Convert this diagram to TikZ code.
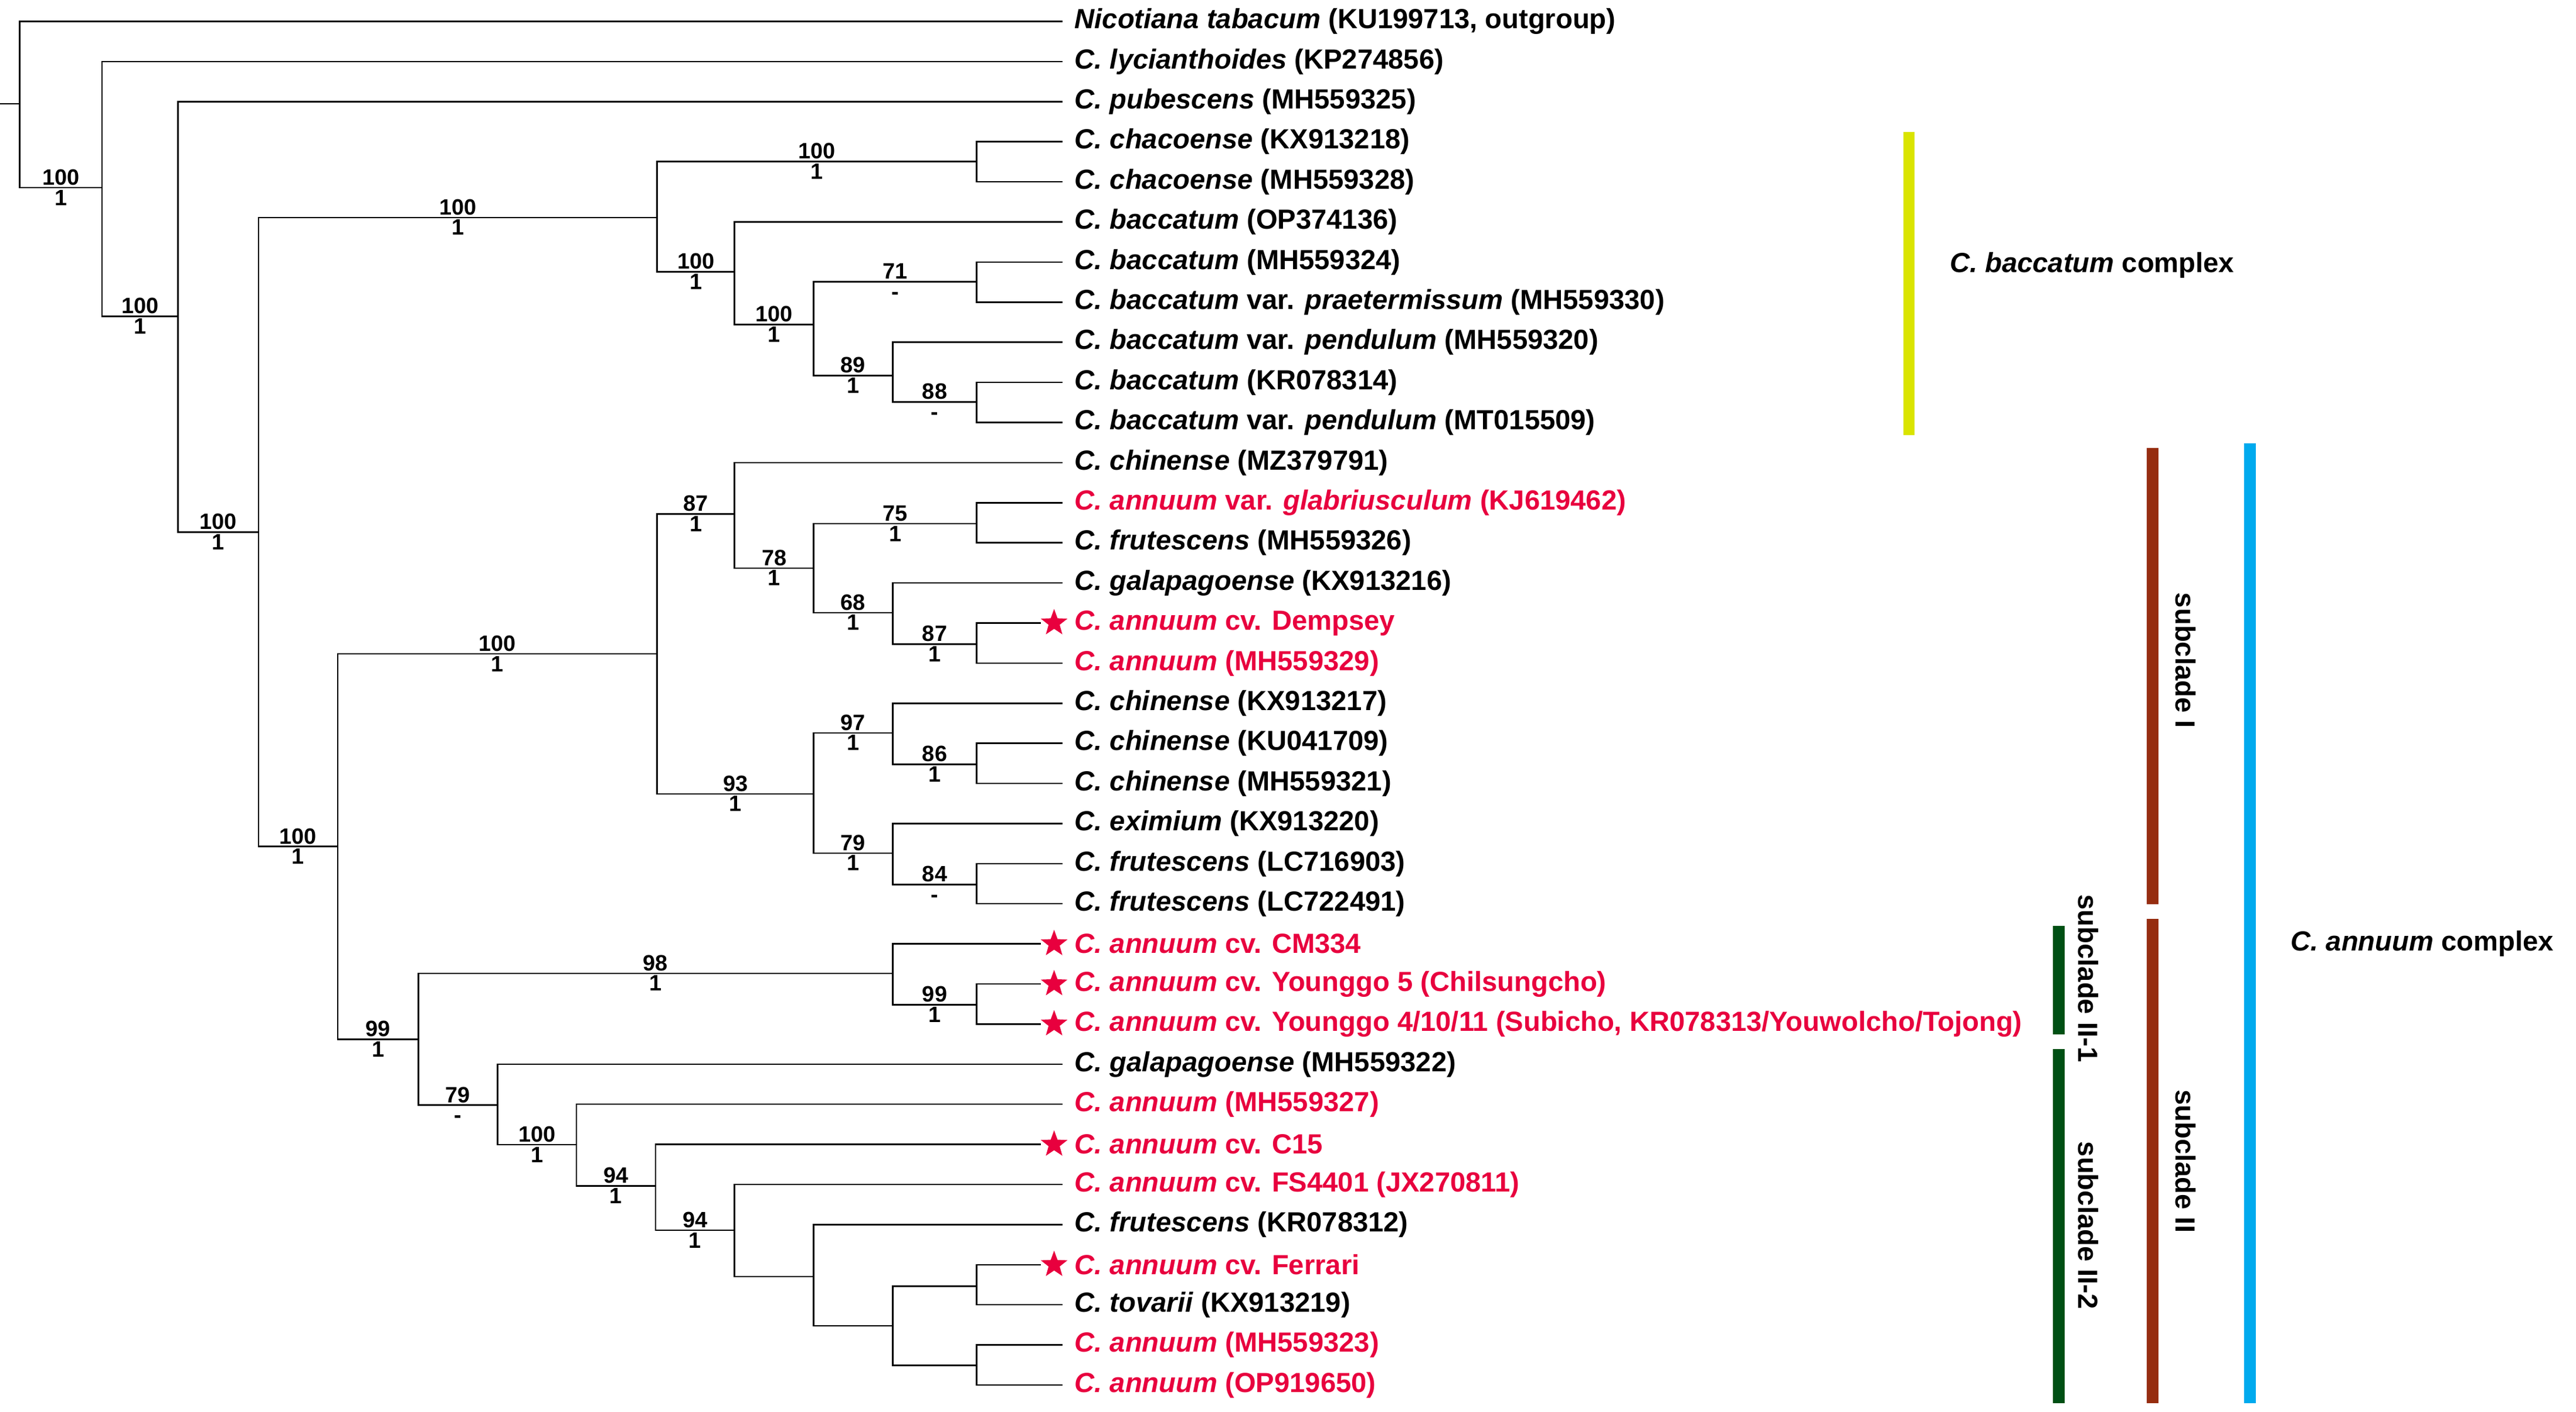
\documentclass[tikz,border=0pt]{standalone}
\usepackage{fontspec}
\setmainfont{Liberation Sans}
\usetikzlibrary{calc,shapes.geometric}
\definecolor{cr}{RGB}{232,0,62}
\definecolor{cy}{RGB}{218,228,0}
\definecolor{cb}{RGB}{0,170,238}
\definecolor{cbr}{RGB}{150,45,15}
\definecolor{cg}{RGB}{0,80,20}
\begin{document}
\begin{tikzpicture}[x=1pt,y=-1pt,line width=0.9pt,
 tx/.style={anchor=west,inner sep=0pt,font=\fontsize{16.8}{18}\bfseries},
 lb/.style={inner sep=1.2pt,text height=9pt,text depth=0pt,font=\fontsize{13.5}{14}\bfseries},
 st/.style={star,star points=5,star point ratio=2.4,fill=cr,draw=none,minimum size=17pt,inner sep=0pt},
 bar/.style={line width=7pt},
 bl/.style={font=\fontsize{16.8}{18}\bfseries}]
\useasboundingbox (0,0) rectangle (1564,857);
\foreach \n/\x/\y in {R/12/63,A/62/114,B/108/192,C/157/323,D/399/132,Dc/593/98,D2/446/165,D3/494/197,D4/593/171,D5/542/228,D6/593/244,
 E/205/514,F/399/397,F1/446/312,F3/494/345,F4/593/318,F5/542/372,F6/593/391,F2/494/482,F7/542/445,F9/593/464,F8/542/518,F10/593/537,
 G/254/631,G1/542/591,G3/593/610,G2/302/671,G4/350/695,G5/398/720,G6/446/747,G7/494/775,G8/542/805,G9/593/781,G10/593/829}
 \coordinate (\n) at (\x,\y);
\draw (0,63) -- (R);
\newcommand\tipx[3]{\coordinate (t#1) at (645,{13+(#1-1)*24.35});
 \node[tx,#2] (l#1) at (652,{13+(#1-1)*24.35}) {#3};}
\newcommand\tips[2]{\coordinate (t#1) at (632,{13+(#1-1)*24.35});
 \node[st] (s#1) at (640,{13+(#1-1)*24.35}) {};
 \node[tx,cr] (l#1) at (652,{13+(#1-1)*24.35}) {#2};}
\tipx{1}{}{\textit{Nicotiana tabacum} (KU199713, outgroup)}
\tipx{2}{}{\textit{C. lycianthoides} (KP274856)}
\tipx{3}{}{\textit{C. pubescens} (MH559325)}
\tipx{4}{}{\textit{C. chacoense} (KX913218)}
\tipx{5}{}{\textit{C. chacoense} (MH559328)}
\tipx{6}{}{\textit{C. baccatum} (OP374136)}
\tipx{7}{}{\textit{C. baccatum} (MH559324)}
\tipx{8}{}{\textit{C. baccatum} var. \textit{praetermissum} (MH559330)}
\tipx{9}{}{\textit{C. baccatum} var. \textit{pendulum} (MH559320)}
\tipx{10}{}{\textit{C. baccatum} (KR078314)}
\tipx{11}{}{\textit{C. baccatum} var. \textit{pendulum} (MT015509)}
\tipx{12}{}{\textit{C. chinense} (MZ379791)}
\tipx{13}{cr}{\textit{C. annuum} var. \textit{glabriusculum} (KJ619462)}
\tipx{14}{}{\textit{C. frutescens} (MH559326)}
\tipx{15}{}{\textit{C. galapagoense} (KX913216)}
\tips{16}{\textit{C. annuum} cv. Dempsey}
\tipx{17}{cr}{\textit{C. annuum} (MH559329)}
\tipx{18}{}{\textit{C. chinense} (KX913217)}
\tipx{19}{}{\textit{C. chinense} (KU041709)}
\tipx{20}{}{\textit{C. chinense} (MH559321)}
\tipx{21}{}{\textit{C. eximium} (KX913220)}
\tipx{22}{}{\textit{C. frutescens} (LC716903)}
\tipx{23}{}{\textit{C. frutescens} (LC722491)}
\tips{24}{\textit{C. annuum} cv. CM334}
\tips{25}{\textit{C. annuum} cv. Younggo 5 (Chilsungcho)}
\tips{26}{\textit{C. annuum} cv. Younggo 4/10/11 (Subicho, KR078313/Youwolcho/Tojong)}
\tipx{27}{}{\textit{C. galapagoense} (MH559322)}
\tipx{28}{cr}{\textit{C. annuum} (MH559327)}
\tips{29}{\textit{C. annuum} cv. C15}
\tipx{30}{cr}{\textit{C. annuum} cv. FS4401 (JX270811)}
\tipx{31}{}{\textit{C. frutescens} (KR078312)}
\tips{32}{\textit{C. annuum} cv. Ferrari}
\tipx{33}{}{\textit{C. tovarii} (KX913219)}
\tipx{34}{cr}{\textit{C. annuum} (MH559323)}
\tipx{35}{cr}{\textit{C. annuum} (OP919650)}
\foreach \p/\c in {R/t1,A/t2,B/t3,Dc/t4,Dc/t5,D2/t6,D4/t7,D4/t8,D5/t9,D6/t10,D6/t11,F1/t12,F4/t13,F4/t14,F5/t15,F6/t16,F6/t17,
 F7/t18,F9/t19,F9/t20,F8/t21,F10/t22,F10/t23,G1/t24,G3/t25,G3/t26,G2/t27,G4/t28,G5/t29,G6/t30,G7/t31,G9/t32,G9/t33,G10/t34,G10/t35}
 \draw (\p) |- (\c);
\foreach \p/\c/\a/\b in {R/A/100/1,A/B/100/1,B/C/100/1,C/D/100/1,D/Dc/100/1,D/D2/100/1,D2/D3/100/1,D3/D4/71/-,D3/D5/89/1,D5/D6/88/-,
 C/E/100/1,E/F/100/1,F/F1/87/1,F/F2/93/1,F1/F3/78/1,F3/F4/75/1,F3/F5/68/1,F5/F6/87/1,F2/F7/97/1,F7/F9/86/1,F2/F8/79/1,F8/F10/84/-,
 E/G/99/1,G/G1/98/1,G1/G3/99/1,G/G2/79/-,G2/G4/100/1,G4/G5/94/1,G5/G6/94/1}{
 \draw (\p) |- (\c);
 \node[lb,above] at ($(\p |- \c)!0.5!(\c)$) {\a};
 \node[lb,below] at ($(\p |- \c)!0.5!(\c)$) {\b};}
\foreach \p/\c in {G6/G7,G7/G8,G8/G9,G8/G10}
 \draw (\p) |- (\c);
\draw[bar,cy] (1159,80) -- (1159,264);
\draw[bar,cbr] (1307,272) -- (1307,549);
\draw[bar,cbr] (1307,558) -- (1307,852);
\draw[bar,cb] (1366,269) -- (1366,852);
\draw[bar,cg] (1250,562) -- (1250,628);
\draw[bar,cg] (1250,637) -- (1250,852);
\node[bl,anchor=west] (bc) at (1180,161) {\textit{C. baccatum} complex};
\node[bl,anchor=west] (ac) at (1387,573) {\textit{C. annuum} complex};
\node[bl,rotate=-90] (s1) at (1327,401) {subclade I};
\node[bl,rotate=-90] (s2) at (1327,705) {subclade II};
\node[bl,rotate=-90] (s21) at (1268,594) {subclade II-1};
\node[bl,rotate=-90] (s22) at (1268,744) {subclade II-2};
\end{tikzpicture}
\end{document}
